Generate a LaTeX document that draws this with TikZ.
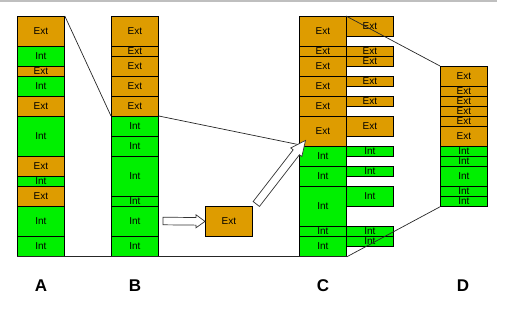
\documentclass[tikz,border=0pt]{standalone}
\usepackage{fontspec}
\setmainfont{Liberation Sans}
\usetikzlibrary{calc}
\definecolor{Extcol}{RGB}{222,156,0}
\definecolor{Intcol}{RGB}{0,240,0}
\tikzset{
  box/.style={draw, line width=0.8pt, inner sep=0pt, minimum width=47pt,
    fill=#1col, font=\fontsize{10}{10}\selectfont, anchor=north west},
  conn/.style={line width=0.7pt, draw=black!85},
  letter/.style={font=\fontsize{17}{17}\selectfont\bfseries},
  hollow/.style={draw=black!80, line width=0.7pt, fill=white, line join=miter}
}
\newcommand\hollowarrow[5]{%
  \path[hollow] let \p1=(#1), \p2=(#2), \n1={atan2(\y2-\y1,\x2-\x1)} in
    ($(\p1)+(\n1+90:#3)$) -- ($(\p2)+(\n1+180:#5)+(\n1+90:#3)$)
    -- ($(\p2)+(\n1+180:#5)+(\n1+90:#4)$) -- (\p2)
    -- ($(\p2)+(\n1+180:#5)+(\n1-90:#4)$) -- ($(\p2)+(\n1+180:#5)+(\n1-90:#3)$)
    -- ($(\p1)+(\n1-90:#3)$) -- cycle;}
\begin{document}
\begin{tikzpicture}[x=1pt,y=-1pt]
\useasboundingbox (0,0) rectangle (506,317);
% top rule
\coordinate (r0) at (0,1);
\coordinate (r1) at (497,1);
\draw[line width=1.2pt, draw=black!25] (r0) -- (r1);
% column A
\foreach \t/\y/\h [count=\i] in {Ext/16/30,Int/46/20,Ext/66/10,Int/76/20,Ext/96/20,Int/116/40,Ext/156/20,Int/176/10,Ext/186/20,Int/206/30,Int/236/20}
  \node[box=\t, minimum height=\h pt] (A\i) at (17,\y) {\t};
% column B
\foreach \t/\y/\h [count=\i] in {Ext/16/30,Ext/46/10,Ext/56/20,Ext/76/20,Ext/96/20,Int/116/20,Int/136/20,Int/156/40,Int/196/10,Int/206/30,Int/236/20}
  \node[box=\t, minimum height=\h pt] (B\i) at (111,\y) {\t};
% column C
\foreach \t/\y/\h [count=\i] in {Ext/16/30,Ext/46/10,Ext/56/20,Ext/76/20,Ext/96/20,Ext/116/30,Int/146/20,Int/166/20,Int/186/40,Int/226/10,Int/236/20}
  \node[box=\t, minimum height=\h pt] (C\i) at (299,\y) {\t};
% column C, compacted copies
\foreach \t/\y/\h [count=\i] in {Ext/16/20,Ext/46/10,Ext/56/10,Ext/76/10,Ext/96/10,Ext/116/20,Int/146/10,Int/166/10,Int/186/20,Int/226/10,Int/236/10}
  \node[box=\t, minimum height=\h pt] (R\i) at (346,\y) {\t};
% column D
\foreach \t/\y/\h [count=\i] in {Ext/66/20,Ext/86/10,Ext/96/10,Ext/106/10,Ext/116/10,Ext/126/20,Int/146/10,Int/156/10,Int/166/20,Int/186/10,Int/196/10}
  \node[box=\t, minimum height=\h pt] (D\i) at (440,\y) {\t};
% lone Ext box
\node[box=Ext, minimum height=30pt] (X) at (205,206) {Ext};
% connectors
\draw[conn] (A1.north east) -- (B6.north west);
\coordinate (cin) at ($(C6.south west)+(3,-1.5)$);
\draw[conn] (B6.north east) -- (cin);
\draw[conn] (A11.south west) -- (C11.south east);
\draw[conn] (R1.north west) -- (D1.north west);
\draw[conn] (C11.south east) -- (D11.south west);
% hollow arrows
\coordinate (h0) at (163,221);
\hollowarrow{h0}{X.west}{3.8pt}{6.5pt}{9pt}
\coordinate (d0) at ($(X.north east)+(3.5,-2)$);
\coordinate (d1) at ($(C6.west)+(6.5,9)$);
\hollowarrow{d0}{d1}{4pt}{7pt}{15pt}
% labels
\node[letter] (la) at (41,286) {A};
\node[letter] (lb) at (135,286) {B};
\node[letter] (lc) at (323,286) {C};
\node[letter] (ld) at (463,286) {D};
\end{tikzpicture}
\end{document}
